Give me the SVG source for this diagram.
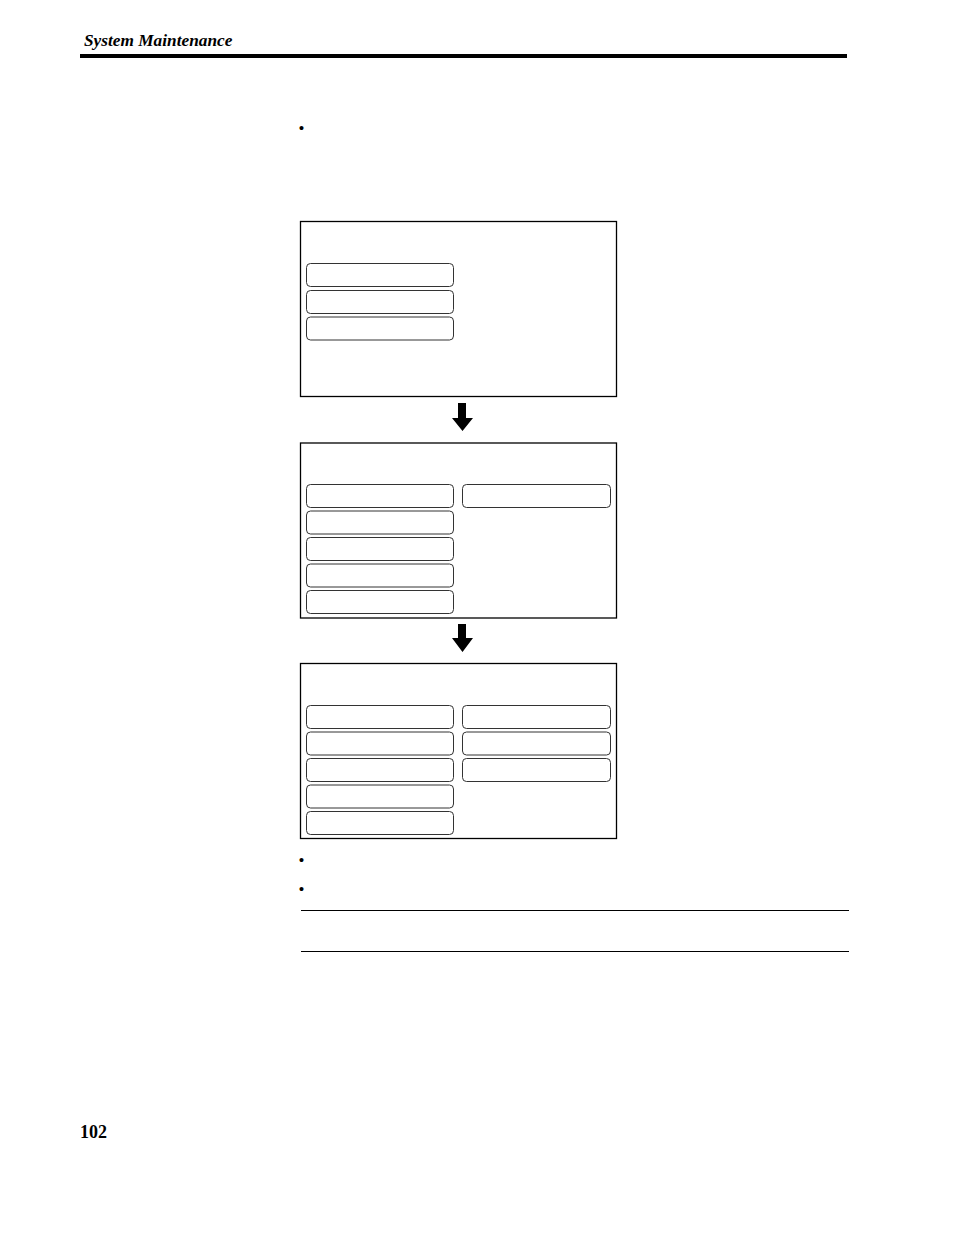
<svg xmlns="http://www.w3.org/2000/svg" width="954" height="1235" viewBox="0 0 954 1235">
<style>
.screen{fill:#fff;stroke:#000;stroke-width:1.3}
.btn{fill:#fff;stroke:#333;stroke-width:1}
.arrow{fill:#000}
.rule{stroke:#000;stroke-width:1.2}
.bullet{font-family:"Liberation Serif",serif;font-size:17px;fill:#000}
</style>
<rect width="954" height="1235" fill="#fff"/>
<g id="header">
<text x="84" y="46" font-family="Liberation Serif, serif" font-size="17.3" font-style="italic" font-weight="bold">System Maintenance</text>
<rect x="80" y="54" width="767" height="4" fill="#000"/>
</g>
<text class="bullet" x="298.5" y="134">•</text>
<g id="screen1">
<rect class="screen" x="300.5" y="221.5" width="316" height="175"/>
<rect class="btn" x="306.5" y="263.5" width="147" height="23" rx="4"/>
<rect class="btn" x="306.5" y="290.5" width="147" height="23" rx="4"/>
<rect class="btn" x="306.5" y="317" width="147" height="23" rx="4"/>
</g>
<g id="screen2">
<rect class="screen" x="300.5" y="443" width="316" height="175"/>
<rect class="btn" x="306.5" y="484.5" width="147" height="23" rx="4"/>
<rect class="btn" x="462.5" y="484.5" width="148" height="23" rx="4"/>
<rect class="btn" x="306.5" y="511" width="147" height="23" rx="4"/>
<rect class="btn" x="306.5" y="537.5" width="147" height="23" rx="4"/>
<rect class="btn" x="306.5" y="564" width="147" height="23" rx="4"/>
<rect class="btn" x="306.5" y="590.5" width="147" height="23" rx="4"/>
</g>
<g id="screen3">
<rect class="screen" x="300.5" y="663.5" width="316" height="175"/>
<rect class="btn" x="306.5" y="705.5" width="147" height="23" rx="4"/>
<rect class="btn" x="306.5" y="732" width="147" height="23" rx="4"/>
<rect class="btn" x="306.5" y="758.5" width="147" height="23" rx="4"/>
<rect class="btn" x="306.5" y="785" width="147" height="23" rx="4"/>
<rect class="btn" x="306.5" y="811.5" width="147" height="23" rx="4"/>
<rect class="btn" x="462.5" y="705.5" width="148" height="23" rx="4"/>
<rect class="btn" x="462.5" y="732" width="148" height="23" rx="4"/>
<rect class="btn" x="462.5" y="758.5" width="148" height="23" rx="4"/>
</g>
<g id="connectors">
<polygon class="arrow" points="458,403 466,403 466,418 473,418 462.5,431 452,418 458,418"/>
<polygon class="arrow" points="458,624 466,624 466,638 473,638 462.5,652 452,638 458,638"/>
</g>
<text class="bullet" x="298.5" y="866">•</text>
<text class="bullet" x="298.5" y="895">•</text>
<line class="rule" x1="301" y1="910.5" x2="849" y2="910.5"/>
<line class="rule" x1="301" y1="951.5" x2="849" y2="951.5"/>
<text x="80" y="1138" font-family="Liberation Serif, serif" font-size="18" font-weight="bold">102</text>
</svg>
